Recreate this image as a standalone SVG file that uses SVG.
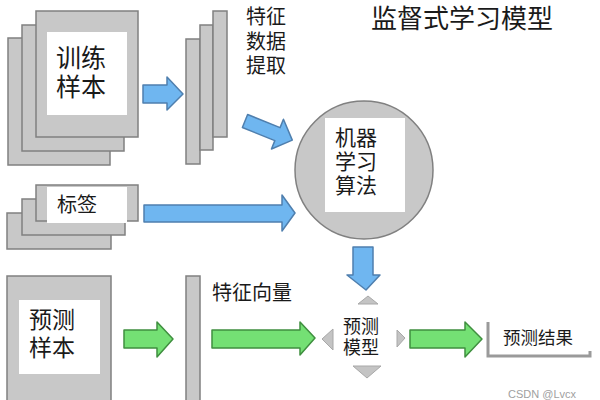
<svg xmlns="http://www.w3.org/2000/svg" width="600" height="400" viewBox="0 0 600 400">
<style>
.g{fill:#c8c8c8;stroke:#808080;stroke-width:1.5}
.w{fill:#ffffff;stroke:none}
.t{font-family:"Liberation Sans","Noto Sans CJK SC",sans-serif;fill:#1a1a1a}
.blue{fill:#6fb6f0;stroke:#4f7fae;stroke-width:1.5;stroke-linejoin:round}
.green{fill:#74e074;stroke:#3f8f3f;stroke-width:1.5;stroke-linejoin:round}
.tri{fill:#c4c4c4;stroke:#a8a8a8;stroke-width:1}
</style>
<rect width="600" height="400" fill="#ffffff"/>
<g id="title"><text class="t" x="462" y="28" font-size="26" text-anchor="middle">监督式学习模型</text></g>
<g id="training-samples">
<rect class="g" x="8" y="38" width="102" height="127"/>
<rect class="g" x="22" y="25" width="102" height="126"/>
<rect class="g" x="36" y="11" width="102" height="126"/>
<rect class="w" x="47" y="32" width="80" height="83"/>
<text class="t" x="56" y="67" font-size="25">训练</text>
<text class="t" x="56" y="96" font-size="25">样本</text>
</g>
<g id="feature-extraction">
<rect class="g" x="186" y="39" width="14" height="125"/>
<rect class="g" x="200" y="25" width="13" height="125"/>
<rect class="g" x="213" y="11" width="14" height="126"/>
<text class="t" x="246" y="24" font-size="20">特征</text>
<text class="t" x="246" y="49" font-size="20">数据</text>
<text class="t" x="246" y="73" font-size="20">提取</text>
</g>
<g id="ml-algorithm">
<circle class="g" cx="364" cy="170" r="69"/>
<rect class="w" x="325" y="118" width="80" height="94"/>
<text class="t" x="335" y="145" font-size="21">机器</text>
<text class="t" x="335" y="169" font-size="21">学习</text>
<text class="t" x="335" y="193" font-size="21">算法</text>
</g>
<g id="labels">
<rect class="g" x="7" y="213" width="104" height="36"/>
<rect class="g" x="22" y="199" width="103" height="36"/>
<rect class="g" x="36" y="185" width="102" height="36"/>
<rect class="w" x="47" y="187" width="80" height="36"/>
<text class="t" x="57" y="212" font-size="20">标签</text>
</g>
<g id="prediction-samples">
<rect class="g" x="7" y="276" width="104" height="130"/>
<rect class="w" x="19" y="300" width="81" height="74"/>
<text class="t" x="29" y="328" font-size="23">预测</text>
<text class="t" x="29" y="356" font-size="23">样本</text>
</g>
<g id="feature-vector">
<rect class="g" x="186" y="276" width="14" height="130"/>
<text class="t" x="212" y="300" font-size="20">特征向量</text>
</g>
<g id="prediction-model">
<polygon class="tri" points="368,296 378,304 358,304"/>
<polygon class="tri" points="322,339 333,329 333,350"/>
<polygon class="tri" points="405,338 397,330 397,347"/>
<polygon class="tri" points="367,378 353,366 381,366"/>
<text class="t" x="343" y="333" font-size="18">预测</text>
<text class="t" x="343" y="354" font-size="18">模型</text>
</g>
<g id="prediction-result">
<polyline points="488,322 488,356 590,356 590,351" fill="none" stroke="#9a9a9a" stroke-width="3"/>
<text class="t" x="503" y="344" font-size="17.5">预测结果</text>
</g>
<g id="connectors">
<polygon class="blue" points="143,85 167,85 167,77 183,94 167,110 167,103 143,103"/>
<polygon class="blue" transform="translate(245,121) rotate(22)" points="0,-7 35,-7 35,-16 51,0 35,16 35,7 0,7"/>
<polygon class="blue" points="144,205 282,205 282,195 295,213 282,231 282,222 144,222"/>
<polygon class="blue" points="353,247 373,247 373,275 380,275 366,290 347,275 353,275"/>
<polygon class="green" points="124,330 157,330 157,322 173,339 157,357 157,348 124,348"/>
<polygon class="green" points="212,330 300,330 300,322 315,338 300,355 300,348 212,348"/>
<polygon class="green" points="410,330 465,330 465,322 482,339 465,357 465,348 410,348"/>
</g>
<text x="508" y="398" font-family="Liberation Sans,Arial,sans-serif" font-size="11" fill="#a0a0a0">CSDN @Lvcx</text>
</svg>
